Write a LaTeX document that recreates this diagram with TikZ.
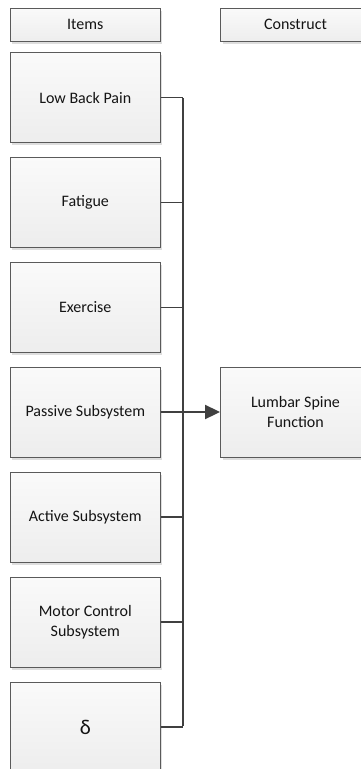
\documentclass[tikz,border=0pt]{standalone}
\usepackage{fontspec}
\setmainfont{Carlito}
\usetikzlibrary{arrows.meta}
\definecolor{boxline}{HTML}{5A5A5A}
\definecolor{conn}{HTML}{404040}
\definecolor{txt}{HTML}{141414}
\tikzset{
  box/.style={draw=boxline, line width=0.9pt, rectangle,
    top color=white!98!black, bottom color=black!7,
    preaction={fill=black!13, transform canvas={shift={(2pt,-2.5pt)}}},
    minimum width=150pt, inner sep=2pt, align=center,
    font=\fontsize{16}{20}\selectfont, text=txt},
  itembox/.style={box, minimum height=90pt},
  headbox/.style={box, minimum height=33pt},
  stub/.style={draw=conn, line width=1.6pt},
  bus/.style={draw=conn, line width=2pt},
  arr/.style={draw=conn, line width=2pt, -{Triangle[length=15pt,width=14pt]}}
}
\begin{document}
\begin{tikzpicture}[x=1pt,y=-1pt]
\useasboundingbox (0,0) rectangle (361,769);
\node[headbox] (items) at (85.3,24.7) {Items};
\node[headbox] (construct) at (295.5,24.7) {Construct};
\node[itembox] (lbp) at (85.3,97.5) {Low Back Pain};
\node[itembox] (fat) at (85.3,202.5) {Fatigue};
\node[itembox] (exe) at (85.3,307.5) {Exercise};
\node[itembox] (pas) at (85.3,412) {Passive Subsystem};
\node[itembox] (act) at (85.3,517) {Active Subsystem};
\node[itembox] (mot) at (85.3,622) {Motor Control\\Subsystem};
\node[itembox, font=\fontsize{21}{23}\selectfont] (del) at (85.3,727) {δ};
\node[itembox] (lsf) at (295.5,412) {Lumbar Spine\\Function};
\coordinate (busx) at (182.5,0);
\foreach \n in {lbp,fat,exe,act,mot,del}{
  \draw[stub] (\n.east) -- (\n.east -| busx);
}
\draw[bus] ([yshift=-0.8pt]lbp.east -| busx) -- ([yshift=0.8pt]del.east -| busx);
\draw[arr] (pas.east) -- (lsf.west);
\end{tikzpicture}
\end{document}
